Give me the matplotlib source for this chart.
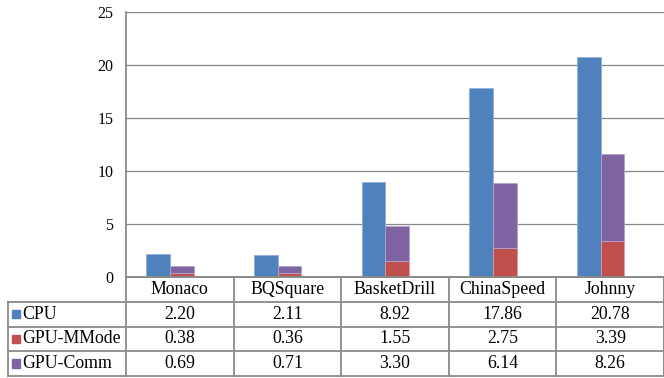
import matplotlib
matplotlib.use('Agg')
import matplotlib.pyplot as plt
from matplotlib import rcParams

#---- data ----#
videos = ['Monaco', 'BQSquare', 'BasketDrill', 'ChinaSpeed', 'Johnny']
cpu = [2.20, 2.11, 8.92, 17.86, 20.78]
gpu_mmode = [0.38, 0.36, 1.55, 2.75, 3.39]
gpu_comm = [0.69, 0.71, 3.30, 6.14, 8.26]
yticks = [0, 5, 10, 15, 20, 25]

series_names = ['CPU', 'GPU-MMode', 'GPU-Comm']
series_vals = [cpu, gpu_mmode, gpu_comm]
colors = ['#4F81BD', '#C0504D', '#8064A2']
edges = ['#8fb0dd', '#e09a98', '#b3a2cc']

rcParams.update({'font.family': 'Liberation Serif',
                 'font.size': 11})

W, H = 664, 378
fig = plt.figure(figsize=(W / 100, H / 100), dpi=100)

grid_c = '#878787'
line_c = '#8a8a8a'
fs = 12.8

# pixel layout of the plot and the table below it
px_left, px_right = 126, 664
px_top, px_zero = 12, 277
px_tab_left, px_tab_bot = 8, 376
cat_w = (px_right - px_left) / len(videos)

ax = fig.add_axes([px_left / W, (H - px_zero) / H,
                   (px_right - px_left) / W, (px_zero - px_top) / H])
x = range(len(videos))
bw = 0.22
xc = [i - 0.20 for i in x]
xs = [i + 0.02 for i in x]
ax.bar(xc, cpu, width=bw, color=colors[0], edgecolor=edges[0], lw=0.6, zorder=3)
ax.bar(xs, gpu_mmode, width=bw, color=colors[1], edgecolor=edges[1], lw=0.6, zorder=3)
ax.bar(xs, gpu_comm, width=bw, bottom=gpu_mmode, color=colors[2],
       edgecolor=edges[2], lw=0.6, zorder=3)

ax.set_xlim(-0.5, len(videos) - 0.5)
ax.set_ylim(0, 25)
ax.set_yticks(yticks)
ax.set_xticks([])
ax.tick_params(axis='y', length=0, pad=9, labelsize=11.5)
for v in yticks[1:]:
    ax.axhline(v, color=grid_c, lw=0.9, zorder=1)
for s in ['top', 'right']:
    ax.spines[s].set_visible(False)
ax.spines['left'].set_color(line_c)
ax.spines['left'].set_linewidth(1.3)
ax.spines['bottom'].set_color(line_c)
ax.spines['bottom'].set_linewidth(1.3)

#---- data table ----#
tab = fig.add_axes([px_tab_left / W, (H - px_tab_bot) / H,
                    (px_right - px_tab_left) / W, (px_tab_bot - px_zero) / H])
hdr = (px_left - px_tab_left) / cat_w
x0 = -0.5 - hdr
x1 = len(videos) - 0.5
tab.set_xlim(x0, x1)
tab.set_ylim(4, 0)
tab.axis('off')

lk = dict(color=line_c, lw=1.3, clip_on=False)
# horizontal rules
tab.plot([-0.5, x1], [0, 0], **lk)
for r in [1, 2, 3, 4]:
    tab.plot([x0, x1], [r, r], **lk)
# vertical rules
tab.plot([x0, x0], [1, 4], **lk)
for i in range(len(videos) + 1):
    tab.plot([i - 0.5, i - 0.5], [0, 4], **lk)
tab.plot([x1 - 0.003, x1 - 0.003], [0, 4], **lk)

for i, name in enumerate(videos):
    tab.text(i, 0.5, name, ha='center', va='center', fontsize=fs)

key = 8 / cat_w
for r, (name, vals) in enumerate(zip(series_names, series_vals)):
    y = r + 1.5
    tab.add_patch(plt.Rectangle((x0 + 4 / cat_w, y - 0.17), key, 0.34,
                                color=colors[r], clip_on=False))
    tab.text(x0 + 14 / cat_w, y, name, ha='left', va='center', fontsize=fs)
    for i, v in enumerate(vals):
        tab.text(i, y, '%.2f' % v, ha='center', va='center', fontsize=fs)

plt.savefig('out.png', dpi=100)
